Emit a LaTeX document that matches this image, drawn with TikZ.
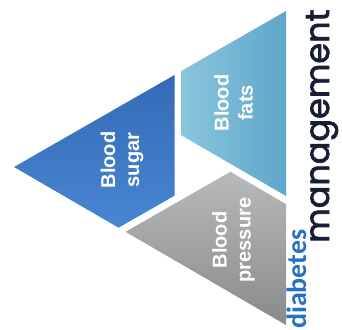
\documentclass[tikz,border=0pt]{standalone}
\usepackage{fontspec}
\setmainfont{Liberation Sans}
\newfontfamily\mgmtfont[FakeBold=2]{Poppins}
\newfontfamily\diabfont{Carlito}
\usepackage{xcolor}
\definecolor{sugartop}{RGB}{52,106,182}
\definecolor{sugarbot}{RGB}{72,134,210}
\definecolor{fatsleft}{RGB}{138,198,220}
\definecolor{fatsright}{RGB}{94,166,202}
\definecolor{prestop}{RGB}{184,185,187}
\definecolor{presbot}{RGB}{136,138,140}
\definecolor{diabblue}{RGB}{40,112,192}
\definecolor{mgmtnavy}{RGB}{22,30,52}

\tikzset{
	seglabel/.style={text=white, font=\fontsize{20}{24}\selectfont\bfseries, rotate=90, align=center}
}

\begin{document}
\begin{tikzpicture}[x=1pt, y=1pt]
	\useasboundingbox (0,0) rectangle (342,329);

	% three corner pieces of the big triangle
	\shade[top color=sugartop, bottom color=sugarbot]
		(14,162) -- (174.5,254) -- (174.5,133.3) -- (118.5,101.3) -- cycle;
	\shade[left color=fatsleft, right color=fatsright]
		(286,318) -- (286,133) -- (181.5,193.6) -- (181.5,258.1) -- cycle;
	\shade[top color=prestop, bottom color=presbot]
		(286,4) -- (125.5,97.2) -- (230.4,157.2) -- (286,124.9) -- cycle;

	\node[seglabel] (sugar) at (122,169) {Blood\\sugar};
	\node[seglabel] (fats) at (233.5,226) {Blood\\fats};
	\node[seglabel] (pressure) at (233.5,89) {Blood\\pressure};

	% title along the right side
	\node[rotate=90, anchor=base west, inner sep=0pt, text=diabblue, font=\diabfont\bfseries\fontsize{28}{28}\selectfont] (diab) at (306,0) {diabetes};
	\node[rotate=90, anchor=base west, inner sep=0pt, text=mgmtnavy, font=\mgmtfont\fontsize{33.5}{33.5}\selectfont] (mgmt) at (329,86) {management};
\end{tikzpicture}
\end{document}
